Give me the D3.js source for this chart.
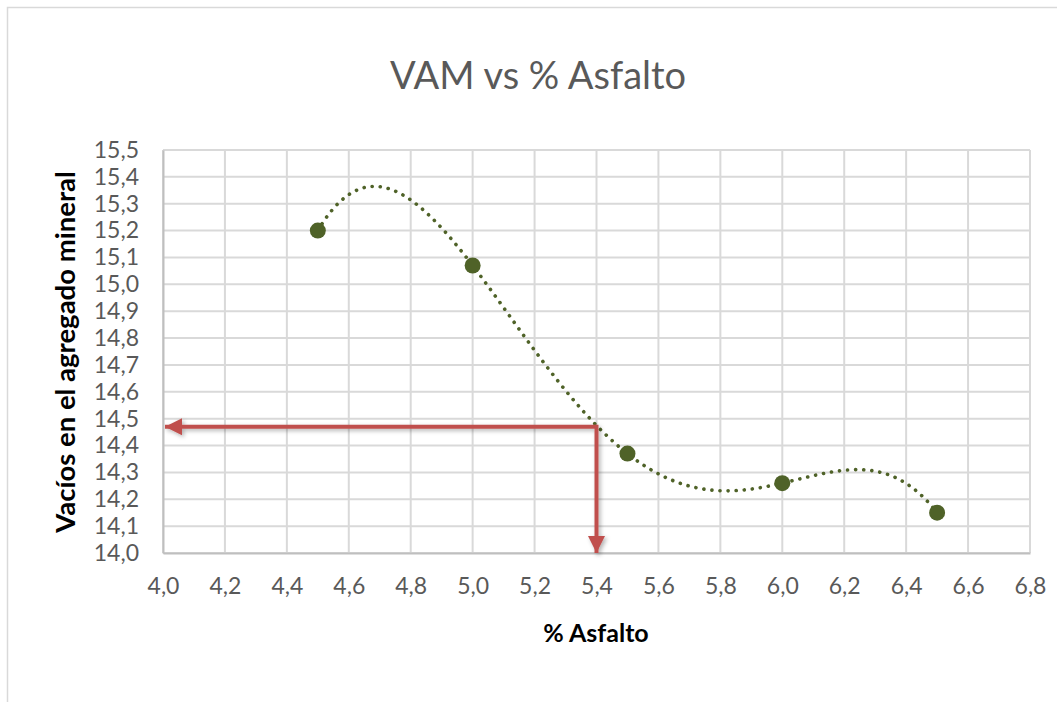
<!DOCTYPE html>
<html>
<head>
<meta charset="utf-8">
<script src="https://cdn.jsdelivr.net/npm/d3@7"></script>
<style>
  html, body { margin: 0; padding: 0; background: #fff; }
  svg { display: block; }
</style>
</head>
<body>
<svg id="chart" width="1057" height="702"></svg>
<script>
// Measured asphalt content (%) and voids in mineral aggregate (VAM)
const asphaltPct = [4.5, 5.0, 5.5, 6.0, 6.5];
const vamValues = [15.2, 15.07, 14.37, 14.26, 14.15];

// Axis ticks
const xTicks = [4.0, 4.2, 4.4, 4.6, 4.8, 5.0, 5.2, 5.4, 5.6, 5.8, 6.0, 6.2, 6.4, 6.6, 6.8];
const yTicks = [14.0, 14.1, 14.2, 14.3, 14.4, 14.5, 14.6, 14.7, 14.8, 14.9, 15.0, 15.1, 15.2, 15.3, 15.4, 15.5];

// Design point
const designAsphalt = [5.4];
const designVam = [14.47];

const W = 1057, H = 702;
const margin = { left: 163, right: 27, top: 150, bottom: 149 };
const svg = d3.select("#chart");
const FONT = "Lato, 'Open Sans', sans-serif";

// Outer chart frame
svg.append("rect")
  .attr("x", 7.5).attr("y", 7.5)
  .attr("width", W + 20).attr("height", H + 20)
  .attr("fill", "#fff").attr("stroke", "#D9D9D9").attr("stroke-width", 1.5);

const x = d3.scaleLinear().domain([4.0, 6.8]).range([margin.left, W - margin.right]);
const y = d3.scaleLinear().domain([14.0, 15.5]).range([H - margin.bottom, margin.top]);

const fmt = d => d.toFixed(1).replace(".", ",");

// Gridlines
const grid = svg.append("g");
grid.selectAll("line.v").data(xTicks).join("line")
  .attr("x1", d => x(d)).attr("x2", d => x(d))
  .attr("y1", y(15.5)).attr("y2", y(14.0))
  .attr("stroke", "#D9D9D9").attr("stroke-width", 2);
grid.selectAll("line.h").data(yTicks).join("line")
  .attr("x1", x(4.0)).attr("x2", x(6.8))
  .attr("y1", d => y(d)).attr("y2", d => y(d))
  .attr("stroke", "#D9D9D9").attr("stroke-width", 2);

// Axes (labels only, lines come from the grid)
const xAxis = svg.append("g")
  .attr("transform", `translate(0,${y(14.0)})`)
  .call(d3.axisBottom(x).tickValues(xTicks).tickFormat(fmt).tickSize(0).tickPadding(25));
const yAxis = svg.append("g")
  .attr("transform", `translate(${x(4.0)},0)`)
  .call(d3.axisLeft(y).tickValues(yTicks).tickFormat(fmt).tickSize(0).tickPadding(24));
[xAxis, yAxis].forEach(g => {
  g.select(".domain").attr("stroke", "#BFBFBF").attr("stroke-width", 2);
  g.selectAll("text")
    .attr("font-family", FONT)
    .attr("font-size", 23).attr("fill", "#595959");
});

// Title and axis titles
svg.append("text")
  .attr("x", 538).attr("y", 89)
  .attr("text-anchor", "middle")
  .attr("font-family", FONT)
  .attr("font-size", 38).attr("fill", "#595959")
  .text("VAM vs % Asfalto");
svg.append("text")
  .attr("x", 596).attr("y", 642)
  .attr("text-anchor", "middle")
  .attr("font-family", FONT)
  .attr("font-weight", "bold")
  .attr("font-size", 25).attr("fill", "#000")
  .text("% Asfalto");
svg.append("text")
  .attr("transform", `translate(75,352) rotate(-90)`)
  .attr("text-anchor", "middle")
  .attr("font-family", FONT)
  .attr("font-weight", "bold")
  .attr("font-size", 27.5).attr("fill", "#000")
  .text("Vacíos en el agregado mineral");

// 4th-order polynomial trend (least squares fit via normal equations)
function polyfit(xs, ys, order) {
  const n = order + 1;
  const A = Array.from({ length: n }, () => new Array(n + 1).fill(0));
  for (let i = 0; i < xs.length; i++) {
    const t = xs[i] - 5.5;
    for (let r = 0; r < n; r++) {
      for (let c = 0; c < n; c++) A[r][c] += Math.pow(t, r + c);
      A[r][n] += ys[i] * Math.pow(t, r);
    }
  }
  for (let p = 0; p < n; p++) {
    let best = p;
    for (let r = p + 1; r < n; r++) if (Math.abs(A[r][p]) > Math.abs(A[best][p])) best = r;
    [A[p], A[best]] = [A[best], A[p]];
    for (let r = 0; r < n; r++) {
      if (r === p) continue;
      const f = A[r][p] / A[p][p];
      for (let c = p; c <= n; c++) A[r][c] -= f * A[p][c];
    }
  }
  const coef = A.map((row, i) => row[n] / row[i]);
  return v => coef.reduce((s, k, i) => s + k * Math.pow(v - 5.5, i), 0);
}
const trend = polyfit(asphaltPct, vamValues, 4);
const xs = d3.range(asphaltPct[0], asphaltPct[asphaltPct.length - 1] + 1e-9, 0.01);
svg.append("path")
  .datum(xs)
  .attr("d", d3.line().x(d => x(d)).y(d => y(trend(d))))
  .attr("fill", "none")
  .attr("stroke", "#4F6228")
  .attr("stroke-width", 3.6)
  .attr("stroke-linecap", "round")
  .attr("stroke-dasharray", "0.1 8");

// Arrow markers with a soft shadow
const defs = svg.append("defs");
const shadow = defs.append("filter").attr("id", "shadow")
  .attr("x", "-20%").attr("y", "-20%").attr("width", "140%").attr("height", "140%");
shadow.append("feDropShadow")
  .attr("dx", 2).attr("dy", 2).attr("stdDeviation", 2)
  .attr("flood-color", "#000").attr("flood-opacity", 0.3);
defs.append("marker")
  .attr("id", "arrow")
  .attr("viewBox", "0 0 10 10")
  .attr("refX", 10).attr("refY", 5)
  .attr("markerUnits", "userSpaceOnUse")
  .attr("markerWidth", 18).attr("markerHeight", 17)
  .attr("orient", "auto")
  .append("path").attr("d", "M0,0 L10,5 L0,10 Z").attr("fill", "#C0504D");

const arrows = svg.append("g").attr("filter", "url(#shadow)");
arrows.selectAll("line.h").data(designAsphalt).join("line")
  .attr("x1", d => x(d)).attr("y1", (d, i) => y(designVam[i]))
  .attr("x2", x(4.0) + 2).attr("y2", (d, i) => y(designVam[i]))
  .attr("stroke", "#C0504D").attr("stroke-width", 4)
  .attr("marker-end", "url(#arrow)");
arrows.selectAll("line.v").data(designAsphalt).join("line")
  .attr("x1", d => x(d)).attr("y1", (d, i) => y(designVam[i]) - 2)
  .attr("x2", d => x(d)).attr("y2", y(14.0))
  .attr("stroke", "#C0504D").attr("stroke-width", 4)
  .attr("marker-end", "url(#arrow)");

// Data markers
svg.selectAll("circle.pt").data(asphaltPct).join("circle")
  .attr("cx", d => x(d)).attr("cy", (d, i) => y(vamValues[i]))
  .attr("r", 8).attr("fill", "#4F6228");
</script>
</body>
</html>
